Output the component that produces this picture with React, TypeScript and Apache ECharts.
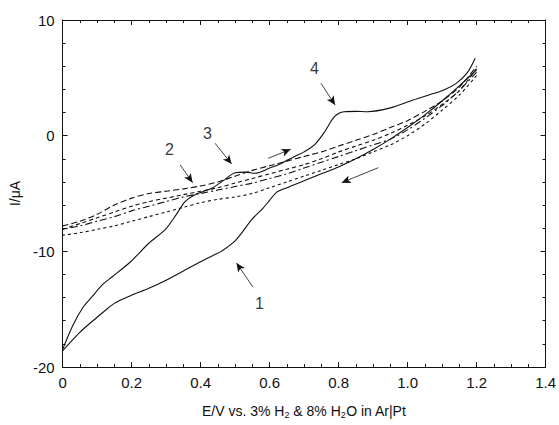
import React, { useEffect, useRef } from "react";
import * as echarts from "echarts";

// Cycle 1 (solid): forward scan then return scan [E/V, I/µA]
const cycle1Forward: [number, number][] = [
  [0, -18.5], [0.03, -16.4], [0.058, -14.9], [0.086, -13.9], [0.115, -12.9], [0.144, -12.2],
  [0.197, -10.9], [0.25, -9.3], [0.298, -8.1], [0.33, -6.8], [0.355, -5.7], [0.384, -5.1],
  [0.432, -4.55], [0.47, -3.8], [0.5, -3.2], [0.53, -3.15], [0.558, -3.25], [0.6, -2.8],
  [0.634, -2.4], [0.672, -1.8], [0.7, -1.4], [0.73, -0.8], [0.759, 0.3], [0.788, 1.64],
  [0.816, 2.07], [0.85, 2.1], [0.884, 2.07], [0.95, 2.4], [1.018, 3.1], [1.06, 3.5],
  [1.105, 3.95], [1.14, 4.5], [1.172, 5.4], [1.196, 6.7],
];
const cycle1Return: [number, number][] = [
  [1.2, 5.7], [1.15, 4.3], [1.1, 3.0], [1.05, 1.8], [1.0, 0.7], [0.95, -0.3], [0.9, -1.2],
  [0.85, -2.0], [0.8, -2.7], [0.75, -3.3], [0.7, -3.9], [0.65, -4.5], [0.62, -4.9],
  [0.6, -5.6], [0.58, -6.3], [0.55, -7.2], [0.5, -9.1], [0.46, -10.0], [0.44, -10.3],
  [0.4, -10.9], [0.35, -11.7], [0.3, -12.5], [0.25, -13.2], [0.2, -13.8], [0.15, -14.5],
  [0.12, -15.2], [0.1, -15.7], [0.05, -17.0], [0, -18.6],
];

// Cycle 2 (dashed)
const cycle2Forward: [number, number][] = [
  [0, -7.8], [0.05, -7.4], [0.1, -6.8], [0.15, -6.0], [0.2, -5.4], [0.25, -5.0], [0.3, -4.8],
  [0.35, -4.6], [0.4, -4.35], [0.45, -4.0], [0.5, -3.5], [0.55, -3.0], [0.6, -2.6],
  [0.65, -2.2], [0.7, -1.8], [0.75, -1.4], [0.8, -0.9], [0.85, -0.4], [0.9, 0.1],
  [0.95, 0.7], [1.0, 1.3], [1.05, 2.1], [1.1, 3.0], [1.15, 4.2], [1.2, 6.0],
];
const cycle2Return: [number, number][] = [
  [1.2, 5.5], [1.15, 3.9], [1.1, 2.6], [1.05, 1.5], [1.0, 0.5], [0.95, -0.3], [0.9, -0.8],
  [0.85, -1.3], [0.8, -1.8], [0.75, -2.3], [0.7, -2.8], [0.65, -3.3], [0.6, -3.7],
  [0.55, -4.1], [0.5, -4.4], [0.45, -4.7], [0.4, -5.0], [0.35, -5.3], [0.3, -5.7],
  [0.25, -6.1], [0.2, -6.5], [0.15, -7.0], [0.1, -7.4], [0.05, -7.8], [0, -8.1],
];

// Cycle 3 (short dashes)
const cycle3Forward: [number, number][] = [
  [0, -8.1], [0.05, -7.6], [0.1, -7.1], [0.15, -6.6], [0.2, -6.1], [0.25, -5.7], [0.3, -5.4],
  [0.35, -5.1], [0.4, -4.8], [0.45, -4.5], [0.5, -4.1], [0.55, -3.7], [0.6, -3.3],
  [0.65, -2.9], [0.7, -2.5], [0.75, -2.0], [0.8, -1.4], [0.85, -0.9], [0.9, -0.4],
  [0.95, 0.2], [1.0, 0.9], [1.05, 1.7], [1.1, 2.7], [1.15, 3.9], [1.2, 5.8],
];
const cycle3Return: [number, number][] = [
  [1.2, 5.2], [1.15, 3.5], [1.1, 2.2], [1.05, 1.0], [1.0, 0.0], [0.95, -0.8], [0.9, -1.4],
  [0.85, -2.0], [0.8, -2.5], [0.75, -3.0], [0.7, -3.5], [0.65, -4.0], [0.6, -4.5],
  [0.55, -5.0], [0.5, -5.3], [0.45, -5.5], [0.4, -5.8], [0.35, -6.2], [0.3, -6.6],
  [0.25, -7.0], [0.2, -7.4], [0.15, -7.8], [0.1, -8.1], [0.05, -8.4], [0, -8.6],
];

// Annotation arrows [from, to] in data units
const arrowLines: [[number, number], [number, number]][] = [
  [[0.749, 4.53], [0.79, 2.65]],
  [[0.442, -0.66], [0.49, -2.45]],
  [[0.341, -2.53], [0.377, -4.06]],
  [[0.552, -13.1], [0.504, -11.0]],
  [[0.596, -1.96], [0.661, -1.18]],
  [[0.915, -2.77], [0.809, -4.06]],
];

// Peak labels [E, I, text]
const peakLabels: [number, number, string][] = [
  [0.571, -14.55, "1"],
  [0.31, -1.2, "2"],
  [0.42, 0.15, "3"],
  [0.73, 5.8, "4"],
];

const xTicks = { min: 0, max: 1.4, interval: 0.2 };
const yTicks = { min: -20, max: 10, interval: 10 };

const FONT = "Liberation Sans, Arial, sans-serif";
const INK = "#111";

export default function App() {
  const ref = useRef<HTMLDivElement>(null);

  useEffect(() => {
    if (!ref.current) return;
    const chart = echarts.init(ref.current, undefined, { renderer: "svg" });

    const tickCommon = {
      axisLine: { show: true, onZero: false, lineStyle: { color: INK, width: 1 } },
      axisTick: { show: true, inside: true, length: 5, lineStyle: { color: INK } },
      minorTick: { show: true, length: 3, lineStyle: { color: INK } },
      splitLine: { show: false },
      minorSplitLine: { show: false },
    };

    const lineSeries = (data: [number, number][], type: any) => ({
      type: "line",
      data,
      showSymbol: false,
      symbol: "none",
      smooth: 0.3,
      lineStyle: { color: INK, width: 1.1, type },
      silent: true,
      z: 2,
    });

    chart.setOption({
      animation: false,
      backgroundColor: "#fff",
      grid: { left: 60, right: 13, top: 20, bottom: 58, containLabel: false },
      xAxis: [
        {
          type: "value",
          position: "bottom",
          ...xTicks,
          ...tickCommon,
          minorTick: { ...tickCommon.minorTick, splitNumber: 4 },
          axisLabel: {
            color: INK,
            fontFamily: FONT,
            fontSize: 15,
            margin: 8,
            formatter: (v: number) => (v === 0 ? "0" : v.toFixed(1)),
          },
          name: "{a|E/V vs. 3% H}{s|2}{a| & 8% H}{s|2}{a|O in Ar|Pt}",
          nameLocation: "middle",
          nameGap: 35,
          nameTextStyle: {
            rich: {
              a: { fontFamily: FONT, fontSize: 14, color: INK },
              s: { fontFamily: FONT, fontSize: 9, color: INK, padding: [8, 0, 0, 0] },
            },
          },
        },
        {
          type: "value",
          position: "top",
          ...xTicks,
          ...tickCommon,
          minorTick: { ...tickCommon.minorTick, splitNumber: 4 },
          axisLabel: { show: false },
        },
      ],
      yAxis: [
        {
          type: "value",
          position: "left",
          ...yTicks,
          ...tickCommon,
          minorTick: { ...tickCommon.minorTick, splitNumber: 5 },
          axisLabel: { color: INK, fontFamily: FONT, fontSize: 15, margin: 8 },
          name: "I/μA",
          nameLocation: "middle",
          nameGap: 31,
          nameTextStyle: { fontFamily: FONT, fontSize: 14, color: INK },
        },
        {
          type: "value",
          position: "right",
          ...yTicks,
          ...tickCommon,
          minorTick: { ...tickCommon.minorTick, splitNumber: 5 },
          axisLabel: { show: false },
        },
      ],
      series: [
        lineSeries(cycle1Forward, "solid"),
        lineSeries(cycle1Return, "solid"),
        lineSeries(cycle2Forward, [6, 3]),
        lineSeries(cycle2Return, [7, 3, 2, 3]),
        lineSeries(cycle3Forward, [4, 3]),
        lineSeries(cycle3Return, [3, 3]),
        {
          type: "scatter",
          data: peakLabels,
          symbolSize: 0,
          itemStyle: { color: INK },
          silent: true,
          z: 5,
          label: {
            show: true,
            position: "inside",
            formatter: (p: any) => p.data[2],
            fontFamily: FONT,
            fontSize: 16,
            color: "#000",
            textBorderWidth: 0,
          },
          markLine: {
            silent: true,
            symbol: ["none", "arrow"],
            symbolSize: [6, 9],
            label: { show: false },
            lineStyle: { color: INK, width: 0.8, type: "solid" },
            data: arrowLines.map(([a, b]) => [{ coord: a }, { coord: b }]),
          },
        },
      ],
    });

    return () => chart.dispose();
  }, []);

  return (
    <div
      ref={ref}
      style={{ position: "fixed", left: 0, top: 0, width: 559, height: 425, background: "#fff" }}
    />
  );
}
